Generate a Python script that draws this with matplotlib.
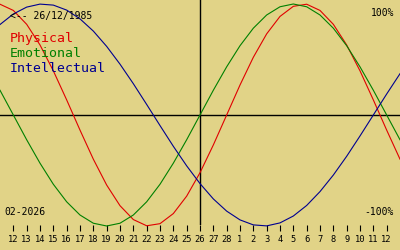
import matplotlib
matplotlib.use("Agg")
from matplotlib import pyplot as plt

# day labels under the ticks (Feb 12 .. Mar 12, centre = 26 Feb)
day_labels = [12, 13, 14, 15, 16, 17, 18, 19, 20, 21, 22, 23, 24, 25, 26, 27, 28,
              1, 2, 3, 4, 5, 6, 7, 8, 9, 10, 11, 12]

# daily values, 11 Feb .. 13 Mar (one per day, -1 .. 1)
physical = [0.998, 0.942, 0.817, 0.631, 0.398, 0.136, -0.136, -0.398, -0.631, -0.817,
            -0.942, -0.998, -0.979, -0.888, -0.731, -0.520, -0.270, 0.0, 0.270, 0.520,
            0.731, 0.888, 0.979, 0.998, 0.942, 0.817, 0.631, 0.398, 0.136, -0.136, -0.398]
emotional = [0.223, 0.0, -0.223, -0.434, -0.624, -0.782, -0.901, -0.975, -1.0, -0.975,
             -0.901, -0.782, -0.624, -0.434, -0.223, 0.0, 0.223, 0.434, 0.624, 0.782,
             0.901, 0.975, 1.0, 0.975, 0.901, 0.782, 0.624, 0.434, 0.223, 0.0, -0.223]
intellectual = [0.815, 0.910, 0.972, 0.999, 0.990, 0.945, 0.866, 0.756, 0.618, 0.458,
                0.282, 0.095, -0.095, -0.282, -0.458, -0.618, -0.756, -0.866, -0.945, -0.990,
                -0.999, -0.972, -0.910, -0.815, -0.690, -0.541, -0.372, -0.189, 0.0, 0.189, 0.372]

birth = "<-- 26/12/1985"
month = "02-2026"

bg = "#e1d387"
red = "#e00000"
green = "#008000"
blue = "#000090"
mono = "DejaVu Sans Mono"

fig = plt.figure(figsize=(4, 2.5), dpi=100)
fig.patch.set_facecolor(bg)
ax = fig.add_axes([0, 0.1, 1, 0.9])
ax.set_facecolor(bg)

days = range(len(physical))
ax.axhline(0, color="black", lw=1)
ax.axvline(15, color="black", lw=1)
ax.plot(days, physical, color=red, lw=0.8, clip_on=False)
ax.plot(days, emotional, color=green, lw=0.8, clip_on=False)
ax.plot(days, intellectual, color=blue, lw=0.8, clip_on=False)

ax.set_xlim(0, 30)
ax.set_ylim(-0.991, 1.036)
for s in ax.spines.values():
    s.set_visible(False)
ax.set_yticks([])
ax.set_xticks(range(1, 30))
ax.set_xticklabels([str(d) for d in day_labels], family=mono)
ax.tick_params(axis="x", direction="out", length=4.3, width=0.8, pad=3, labelsize=6.3)

def px(x, y):
    return x / 400, 1 - y / 250

fig.text(*px(10, 19.5), birth, family=mono, fontsize=7, va="baseline")
fig.text(*px(10, 42), "Physical", family=mono, fontsize=9.5, color=red, va="baseline")
fig.text(*px(10, 57), "Emotional", family=mono, fontsize=9.5, color=green, va="baseline")
fig.text(*px(10, 72.5), "Intellectual", family=mono, fontsize=9.5, color=blue, va="baseline")
fig.text(*px(394, 16), "100%", family=mono, fontsize=7, ha="right", va="baseline")
fig.text(*px(394, 215), "-100%", family=mono, fontsize=7, ha="right", va="baseline")
fig.text(*px(4, 215), month, family=mono, fontsize=7, va="baseline")

fig.savefig("out.png", dpi=100, facecolor=bg)
